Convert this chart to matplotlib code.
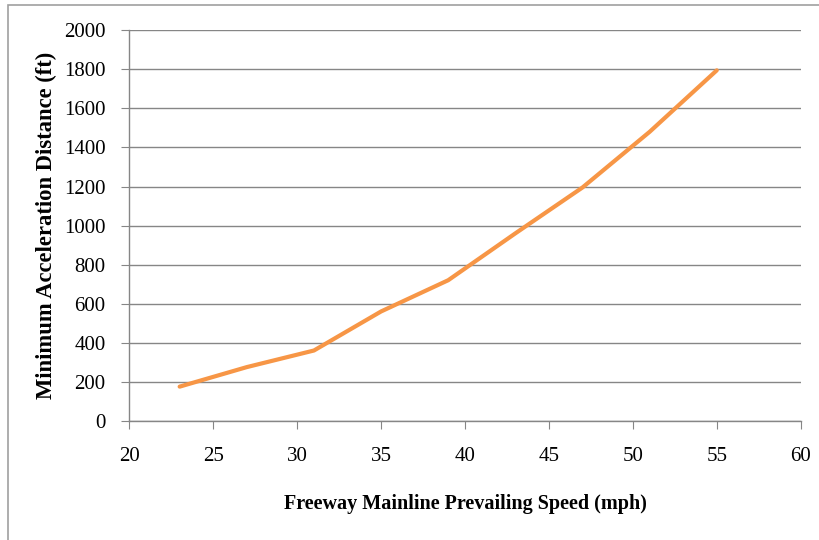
import matplotlib
matplotlib.use("Agg")
import matplotlib.pyplot as plt
from matplotlib.patches import Rectangle

speed_mph = [23, 27, 31, 35, 39, 43, 47, 51, 55]
accel_dist_ft = [175, 275, 360, 560, 720, 960, 1195, 1480, 1795]
x_ticks = [20, 25, 30, 35, 40, 45, 50, 55, 60]
y_ticks = [0, 200, 400, 600, 800, 1000, 1200, 1400, 1600, 1800, 2000]

plt.rcParams['font.family'] = ['Liberation Serif', 'DejaVu Serif']

fig = plt.figure(figsize=(8.2, 5.4), dpi=100)
fig.patches.append(Rectangle((8 / 820, -0.1), 1.2, 1.1 - 5 / 540, transform=fig.transFigure,
                             fill=False, edgecolor='#a0a0a0', linewidth=1.2))
ax = fig.add_axes([129.3 / 820, 1 - 420.8 / 540, (800.7 - 129.3) / 820, (420.8 - 30.3) / 540])

ax.set_xlim(20, 60)
ax.set_ylim(0, 2000)
ax.set_xticks(x_ticks)
ax.set_yticks(y_ticks)
ax.grid(axis='y', color='#868686', linewidth=1.0)
ax.set_axisbelow(True)
for s in ['top', 'right']:
    ax.spines[s].set_visible(False)
for s in ['left', 'bottom']:
    ax.spines[s].set_color('#868686')
    ax.spines[s].set_linewidth(1.0)
ax.tick_params(axis='both', direction='out', length=6, labelsize=15)
ax.tick_params(axis='x', pad=13)
ax.tick_params(axis='y', pad=11)
ax.tick_params(colors='#868686', labelcolor='black')

ax.plot(speed_mph, accel_dist_ft, color='#F79646', linewidth=3.0, solid_capstyle='round', zorder=3)

ax.set_xlabel('Freeway Mainline Prevailing Speed (mph)', fontsize=14.5, fontweight='bold', labelpad=20)
ax.set_ylabel('Minimum Acceleration Distance (ft)', fontsize=16.3, fontweight='bold', labelpad=5)

fig.savefig('out.png', dpi=100)
